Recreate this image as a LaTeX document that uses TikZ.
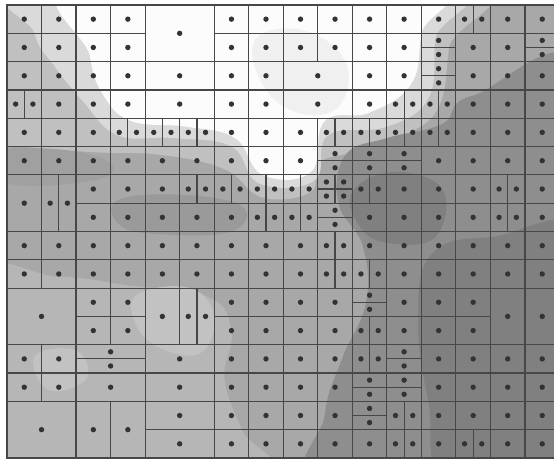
\documentclass[tikz,border=0pt]{standalone}
\usepackage{tikz}
\definecolor{GridInk}{HTML}{474747}
\definecolor{DotInk}{HTML}{333333}
\definecolor{ShadeBase}{HTML}{A8A8A8}
\definecolor{ShadeLight}{HTML}{C0C0C0}
\definecolor{ShadePale}{HTML}{DADADA}
\definecolor{ShadeWhite}{HTML}{FCFCFC}
\definecolor{ShadeHaze}{HTML}{F0F0F0}
\definecolor{ShadeMid}{HTML}{A0A0A0}
\definecolor{ShadeDusk}{HTML}{9A9A9A}
\definecolor{ShadeDark}{HTML}{8E8E8E}
\definecolor{ShadeDeep}{HTML}{808080}
\definecolor{ShadeSoft}{HTML}{B6B6B6}
\definecolor{ShadeSofter}{HTML}{C2C2C2}
\tikzset{
  cellline/.style={draw=GridInk,line width=1pt},
  celldot/.style={fill=DotInk},
  blob/.style={smooth cycle,tension=.7}
}
\newcommand{\gridcell}[4]{%
  \draw[cellline] (#1,#2) rectangle ++(#3,#4);
  \fill[celldot] (#1+#3/2,#2+#4/2) circle (2.3pt);}

\begin{document}
\begin{tikzpicture}[x=1.0359cm,y=-0.8493cm]
  \useasboundingbox (-0.2027,-0.1766) rectangle (15.841,16.213);
  \clip (-0.2027,-0.1766) rectangle (15.841,16.213);
  \fill[white] (-0.2027,-0.1766) rectangle (15.841,16.213);

  % grey levels of the field
  \begin{scope}
    \clip (0,0) rectangle (16,16);
    \fill[ShadeBase] (0,0) rectangle (16,16);
    \fill[ShadeLight] plot[blob] coordinates {(-1,-1) (13,-1) (12.8,1.5) (12.5,3.6) (11.5,4.6) (10,5.2) (9,5.6) (8.8,6.6) (7.4,6.8) (6.3,5.8) (4.5,5.3) (2.5,5.2) (0.5,5.0) (-1,4.6)};
    \fill[ShadePale] plot[blob] coordinates {(0.7,-1) (12.6,-1) (12.4,1.2) (12.2,3.3) (11,4.3) (9.3,4.6) (8.9,6.2) (7.3,6.3) (6.5,5) (4.8,4.7) (3.2,4.6) (2.2,3.4) (1.4,2.2) (0.8,1)};
    \fill[ShadeWhite] plot[blob] coordinates {(2.2,-1) (12.2,-1) (12,1.0) (11.7,2.8) (10.5,3.8) (9.2,4.1) (8.8,5.9) (7.4,6.0) (6.6,4.7) (5.2,4.3) (3.6,4.1) (2.8,3.2) (2.4,1.8)};
    \fill[ShadeHaze] plot[blob] coordinates {(7.2,1.2) (8.6,0.9) (9.8,2) (9.6,3.6) (8.4,3.8) (7.4,2.8)};
    \fill[ShadeMid] plot[blob] coordinates {(-1,5.2) (1.5,5.1) (3,5.6) (2.5,6.2) (0,6.3)};
    \fill[ShadeDusk] plot[blob] coordinates {(3.2,6.9) (5,6.7) (6.8,7.1) (6.5,8) (4.5,8.1) (3.3,7.8)};
    \fill[ShadeDark] plot[blob] coordinates {(9.8,5.3) (11,4.7) (12.6,4.2) (13.5,3.2) (17,2.8) (17,17) (9.3,17) (9.2,14.5) (9.7,12.5) (10.4,10.5) (10.3,8.5) (9.6,7)};
    \fill[ShadeDeep] plot[blob] coordinates {(10,6.6) (11.2,5.9) (12.6,6.5) (12.4,8.2) (11,8.4) (10.2,7.8)};
    \fill[ShadeDeep] plot[blob] coordinates {(12.3,8.8) (14,8.2) (17,8.4) (17,17) (12.9,17) (12.2,14) (11.9,11)};
    \fill[ShadeSoft] plot[blob] coordinates {(-1,9.8) (1.5,9.6) (3.5,9.9) (5.8,10.3) (6.5,11.5) (6.3,13.2) (6.8,15) (7.5,17) (-1,17)};
    \fill[ShadeSofter] plot[blob] coordinates {(3.8,10.2) (5.3,10) (6,11) (5.6,12.3) (4.4,12.1) (3.7,11.2)};
    \fill[ShadeSofter] plot[blob] coordinates {(0.8,12.4) (2,12.2) (2.3,13.2) (1.2,13.6)};
  \end{scope}

  % whole cells
  \foreach \y/\xs in {0/{0,1,2,3,6,7,8,9,10,11,12,14,15}, 1/{0,1,2,3,6,7,8,9,10,11,13,14},
      2/{0,1,2,3,6,7,10,11,13,14,15}, 3/{1,2,3,6,7,10,13,14,15}, 4/{0,1,2,6,7,8,13,14,15},
      5/{0,1,2,3,4,5,6,7,8,12,13,14,15}, 6/{2,3,4,11,12,13,15}, 7/{2,3,4,5,6,10,11,12,13,15},
      8/{0,1,2,3,4,5,6,7,8,10,11,12,13,14,15}, 9/{0,1,2,3,4,5,6,7,8,11,12,13,14,15},
      10/{2,3,6,7,8,9,11,12,13}, 11/{2,3,6,7,8,9,11,12,13}, 12/{0,1,6,7,8,9,12,13,14,15},
      13/{0,1,6,7,8,9,12,13,14,15}, 14/{6,7,8,9,12,13,14,15}, 15/{6,7,8,9,10,12,14,15}}
    {\foreach \x in \xs {\gridcell{\x}{\y}{1}{1}}}

  % cells cut into left and right halves
  \foreach \y/\xs in {0/{13}, 3/{0,11,12}, 4/{3,4,5,9,10,11,12}, 6/{5,6,7,8,10,14}, 7/{7,8,14},
      8/{9}, 9/{9,10}, 11/{10}, 12/{10}, 14/{11}, 15/{11,13}}
    {\foreach \x in \xs {\gridcell{\x}{\y}{.5}{1}\gridcell{\x+.5}{\y}{.5}{1}}}

  % cells cut into upper and lower halves
  \foreach \y/\xs in {1/{12,15}, 2/{12}, 5/{9,10,11}, 7/{9}, 10/{10}, 12/{11}, 13/{10,11}, 14/{10}}
    {\foreach \x in \xs {\gridcell{\x}{\y}{1}{.5}\gridcell{\x}{\y+.5}{1}{.5}}}

  % merged and odd cells
  \foreach \x/\y/\w/\h in {4/0/2/2, 4/2/2/1, 4/3/2/1, 8/2/2/1, 8/3/2/1, 0/6/1/2, 1/6/.5/2, 1.5/6/.5/2,
      9/6/.5/.5, 9.5/6/.5/.5, 9/6.5/.5/.5, 9.5/6.5/.5/.5, 0/10/2/2, 4/10/1/2, 5/10/.5/2, 5.5/10/.5/2,
      14/10/1/2, 15/10/1/2, 2/12/2/.5, 2/12.5/2/.5, 4/12/2/1, 2/13/2/1, 4/13/2/1, 0/14/2/2,
      2/14/1/2, 3/14/1/2, 4/14/2/1, 4/15/2/1}
    {\gridcell{\x}{\y}{\w}{\h}}
\end{tikzpicture}
\end{document}
